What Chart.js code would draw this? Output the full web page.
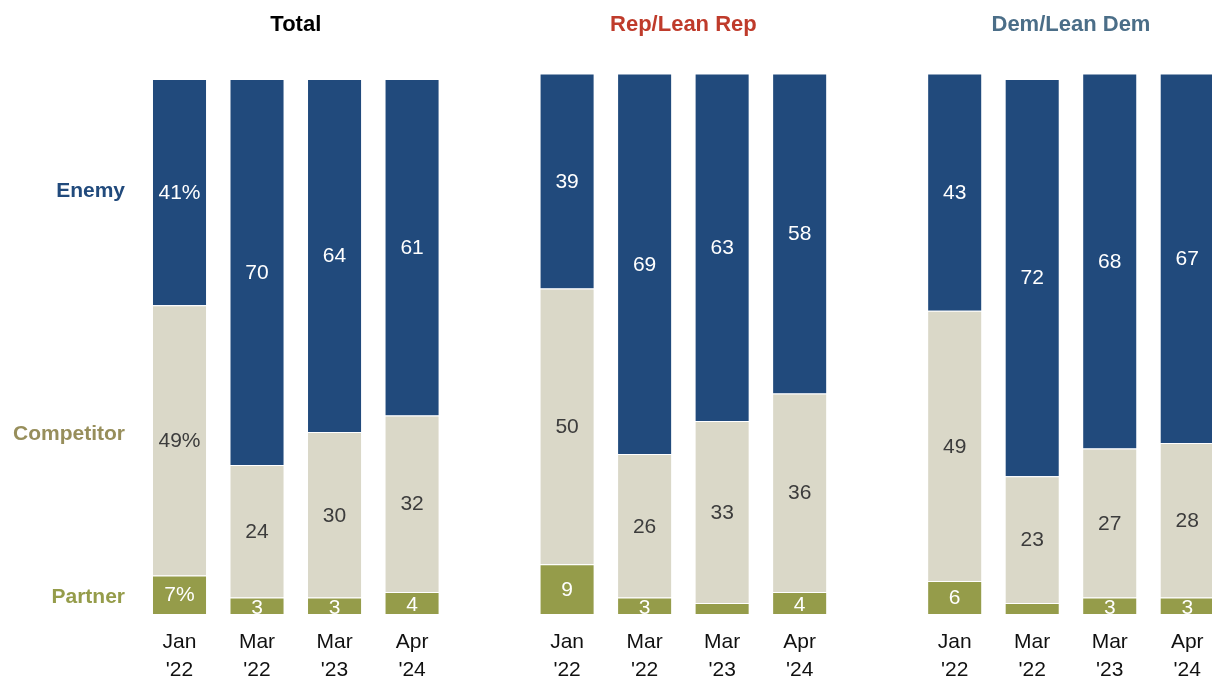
<!DOCTYPE html>
<html>
<head>
<meta charset="utf-8">
<script src="https://cdn.jsdelivr.net/npm/chart.js@4/dist/chart.umd.min.js"></script>
<style>
  html, body { margin: 0; padding: 0; background: #fff; overflow: hidden; }
  #wrap { position: relative; width: 1226px; height: 679px; }
</style>
</head>
<body>
<div id="wrap"><canvas id="grafica"></canvas></div>
<script>
// -------------------------------------------------------------------------------------------------------------------------
// DATA: three groups of four surveys, an empty slot between groups
// -------------------------------------------------------------------------------------------------------------------------
var fechas = [
    ['Jan', "'22"], ['Mar', "'22"], ['Mar', "'23"], ['Apr', "'24"], '',
    ['Jan', "'22"], ['Mar', "'22"], ['Mar', "'23"], ['Apr', "'24"], '',
    ['Jan', "'22"], ['Mar', "'22"], ['Mar', "'23"], ['Apr', "'24"]
];
var grupos = ['Total', 'Rep/Lean Rep', 'Dem/Lean Dem'];
var partner    = [7, 3, 3, 4, null, 9, 3, 2, 4, null, 6, 2, 3, 3];
var competitor = [49, 24, 30, 32, null, 50, 26, 33, 36, null, 49, 23, 27, 28];
var enemy      = [41, 70, 64, 61, null, 39, 69, 63, 58, null, 43, 72, 68, 67];

var colores = {
    enemy: '#214a7c',
    competitor: '#dad8c8',
    partner: '#959c4a'
};

var fuente = '"Liberation Sans", Arial, sans-serif';

// -------------------------------------------------------------------------------------------------------------------------
// PLUGIN: value labels, group titles and row names
// -------------------------------------------------------------------------------------------------------------------------
var etiquetas = {
    id: 'etiquetas',
    afterDatasetsDraw: function(chart) {
        var ctx = chart.ctx;
        var colorTexto = ['#ffffff', '#3c3c3c', '#ffffff'];
        ctx.save();
        ctx.textAlign = 'center';
        ctx.textBaseline = 'middle';
        ctx.font = '21px ' + fuente;
        chart.data.datasets.forEach(function(ds, d) {
            var meta = chart.getDatasetMeta(d);
            meta.data.forEach(function(bar, i) {
                var v = ds.data[i];
                if (v == null || v < 3) return; // very thin segments go unlabeled
                var txt = v + (i === 0 ? '%' : '');
                ctx.fillStyle = colorTexto[d];
                var yc = (bar.y + bar.base) / 2 + 1;
                if (v <= 4) yc += 1;
                ctx.fillText(txt, bar.x, yc);
            });
        });

        // titles over each group
        var x = chart.scales.x;
        var titulos = [
            { texto: grupos[0], color: '#000000', a: 1, b: 2 },
            { texto: grupos[1], color: '#bf3b2b', a: 6, b: 7 },
            { texto: grupos[2], color: '#4b6e88', a: 11, b: 12 }
        ];
        ctx.font = 'bold 22px ' + fuente;
        titulos.forEach(function(t) {
            ctx.fillStyle = t.color;
            ctx.fillText(t.texto, (x.getPixelForValue(t.a) + x.getPixelForValue(t.b)) / 2, 25);
        });

        // row names on the left, next to the first bar
        var filas = [
            { texto: 'Partner', color: '#959c4a', d: 0, dy: 3 },
            { texto: 'Competitor', color: '#978e5b', d: 1, dy: -6 },
            { texto: 'Enemy', color: '#214a7c', d: 2, dy: -1 }
        ];
        ctx.textAlign = 'right';
        ctx.font = 'bold 21px ' + fuente;
        filas.forEach(function(f) {
            var bar = chart.getDatasetMeta(f.d).data[0];
            ctx.fillStyle = f.color;
            ctx.fillText(f.texto, 125, (bar.y + bar.base) / 2 + f.dy);
        });
        ctx.restore();
    }
};

// -------------------------------------------------------------------------------------------------------------------------
// CHART
// -------------------------------------------------------------------------------------------------------------------------
function serie(label, data, color) {
    return {
        label: label,
        data: data,
        backgroundColor: color,
        borderColor: 'rgba(255,255,255,0.7)',
        borderWidth: 1,
        borderSkipped: 'bottom',
        categoryPercentage: 1,
        barPercentage: 0.71
    };
}

var ctx = document.getElementById('grafica').getContext('2d');
var grafica = new Chart(ctx, {
    type: 'bar',
    data: {
        labels: fechas,
        datasets: [
            serie('Partner', partner, colores.partner),
            serie('Competitor', competitor, colores.competitor),
            serie('Enemy', enemy, colores.enemy)
        ]
    },
    options: {
        responsive: true,
        maintainAspectRatio: false,
        animation: false,
        events: [],
        layout: { padding: { left: 140.75, right: 0, top: 62.5, bottom: 0 } },
        scales: {
            x: {
                stacked: true,
                grid: { display: false, drawTicks: false },
                border: { display: false },
                ticks: {
                    color: '#111',
                    font: { family: fuente, size: 21, lineHeight: 1.3 },
                    padding: 15,
                    maxRotation: 0,
                    autoSkip: false
                },
                afterFit: function(scale) { scale.height = 65; }
            },
            y: {
                stacked: true,
                display: false,
                min: 0,
                max: 100
            }
        },
        plugins: {
            legend: { display: false },
            tooltip: { enabled: false }
        }
    },
    plugins: [etiquetas]
});
</script>
</body>
</html>
